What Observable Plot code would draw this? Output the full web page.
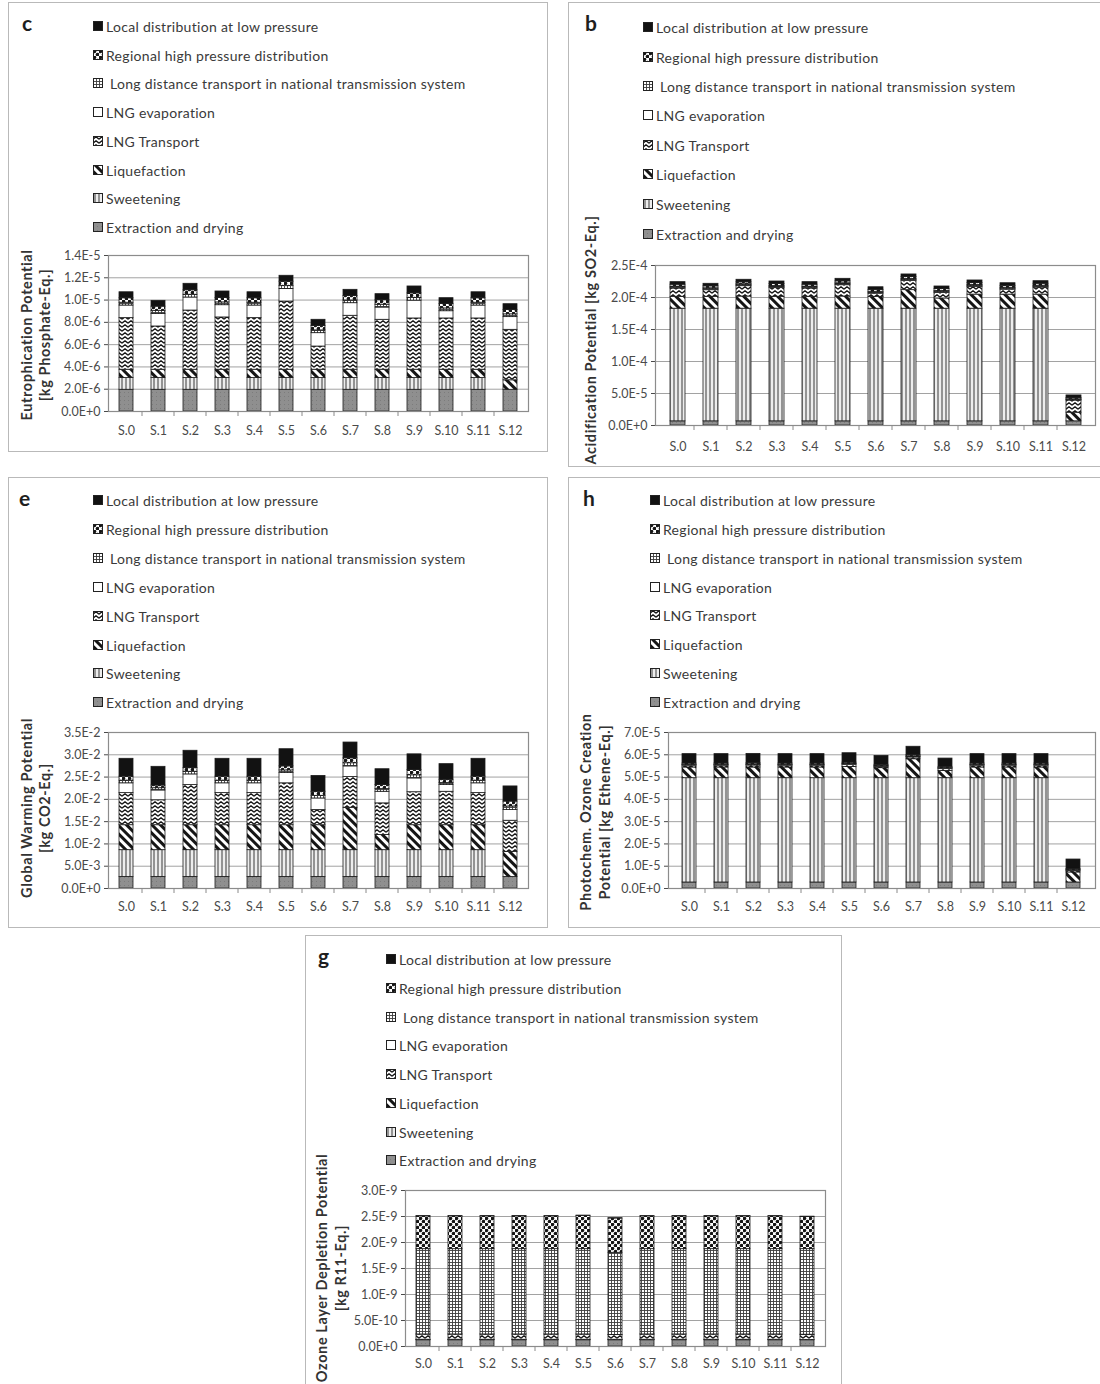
<!DOCTYPE html>
<html>
<head>
<meta charset="utf-8">
<script src="https://cdn.jsdelivr.net/npm/d3@7"></script>
<script src="https://cdn.jsdelivr.net/npm/@observablehq/plot@0.6"></script>
<style>
  body { margin: 0; background: #fff; font-family: Lato, "Open Sans", sans-serif; }
  #page { position: relative; width: 1100px; height: 1384px; overflow: hidden; background: #fff; }
  .box { position: absolute; border: 1px solid #b9b9b9; box-sizing: border-box; }
  .letter { position: absolute; font: bold 21px Lato, sans-serif; color: #1e1e1e; line-height: 1; }
  .item { position: absolute; display: flex; align-items: center; height: 18px; white-space: nowrap;
          font-size: 14px; letter-spacing: 0.3px; color: #3a3a3a; }
  .item svg { margin-right: 3px; flex: none; }
  .plotwrap { position: absolute; }
  .plotwrap svg { max-width: none !important; }
  #titles { position: absolute; left: 0; top: 0; pointer-events: none; }
</style>
</head>
<body>
<svg width="0" height="0" style="position:absolute">
  <defs>
    <pattern id="p-extraction" width="4" height="4" patternUnits="userSpaceOnUse">
      <rect width="4" height="4" fill="#8f8f8f"/>
      <rect width="1" height="1" fill="#7c7c7c"/>
    </pattern>
    <pattern id="p-sweetening" width="4" height="4" patternUnits="userSpaceOnUse">
      <rect width="4" height="4" fill="#ededed"/>
      <rect x="1.5" width="1" height="4" fill="#3a3a3a"/>
    </pattern>
    <pattern id="p-liquefaction" width="6" height="6" patternUnits="userSpaceOnUse" patternTransform="rotate(-45)">
      <rect width="6" height="6" fill="#fff"/>
      <rect width="3" height="6" fill="#151515"/>
    </pattern>
    <pattern id="p-transport" width="6" height="4" patternUnits="userSpaceOnUse">
      <rect width="6" height="4" fill="#fff"/>
      <path d="M0,3.2 L3,0.8 L6,3.2" fill="none" stroke="#151515" stroke-width="1.3"/>
    </pattern>
    <pattern id="p-longdist" width="3" height="3" patternUnits="userSpaceOnUse">
      <rect width="3" height="3" fill="#fff"/>
      <rect width="3" height="0.9" fill="#3c3c3c"/>
      <rect width="0.9" height="3" fill="#3c3c3c"/>
    </pattern>
    <pattern id="p-regional" width="6" height="6" patternUnits="userSpaceOnUse">
      <rect width="6" height="6" fill="#fff"/>
      <circle cx="1.5" cy="1.5" r="1.8" fill="#151515"/>
      <circle cx="4.5" cy="4.5" r="1.8" fill="#151515"/>
    </pattern>
  </defs>
</svg>

<div id="page"></div>

<script>
// Scenario categories along every x axis
const categories = ["S.0","S.1","S.2","S.3","S.4","S.5","S.6","S.7","S.8","S.9","S.10","S.11","S.12"];

// Process stages, stacked from the bottom of each bar upward
const stages = [
  "Extraction and drying",
  "Sweetening",
  "Liquefaction",
  "LNG Transport",
  "LNG evaporation",
  "Long distance transport in national transmission system",
  "Regional high pressure distribution",
  "Local distribution at low pressure"
];
const stageFills = [
  "url(#p-extraction)", "url(#p-sweetening)", "url(#p-liquefaction)", "url(#p-transport)",
  "#ffffff", "url(#p-longdist)", "url(#p-regional)", "#121212"
];

// (c) Eutrophication potential, in 1E-6 kg phosphate-eq.
const epExtraction     = [1.95, 1.95, 1.95, 1.95, 1.95, 1.95, 1.95, 1.95, 1.95, 1.95, 1.95, 1.95, 1.95];
const epSweetening     = [1.05, 1.05, 1.05, 1.05, 1.05, 1.05, 1.05, 1.05, 1.05, 1.05, 1.05, 1.05, 0];
const epLiquefaction   = [0.75, 0.75, 0.75, 0.75, 0.75, 0.75, 0.75, 0.75, 0.75, 0.75, 0.75, 0.75, 0.85];
const epLngTransport   = [4.63, 3.88, 5.31, 4.69, 4.63, 6.12, 2.08, 4.84, 4.48, 4.60, 4.60, 4.60, 4.53];
const epLngEvaporation = [1.13, 1.13, 1.17, 1.10, 1.13, 1.13, 1.20, 1.13, 1.10, 1.60, 0.65, 1.16, 1.14];
const epLongDistance   = [0.25, 0.25, 0.25, 0.25, 0.25, 0.25, 0.25, 0.25, 0.25, 0.25, 0.25, 0.25, 0.25];
const epRegional       = [0.40, 0.40, 0.40, 0.40, 0.40, 0.40, 0.40, 0.40, 0.40, 0.40, 0.40, 0.40, 0.40];
const epLocal          = [0.54, 0.52, 0.58, 0.58, 0.54, 0.53, 0.55, 0.55, 0.55, 0.62, 0.52, 0.54, 0.51];
const epTicks = [0, 2, 4, 6, 8, 10, 12, 14];

// (b) Acidification potential, in 1E-5 kg SO2-eq.
const apExtraction     = [0.65, 0.65, 0.65, 0.65, 0.65, 0.65, 0.65, 0.65, 0.65, 0.65, 0.65, 0.65, 0.65];
const apSweetening     = [17.6, 17.6, 17.6, 17.6, 17.6, 17.6, 17.6, 17.6, 17.6, 17.6, 17.6, 17.6, 0];
const apLiquefaction   = [1.85, 1.85, 1.90, 1.85, 1.85, 1.90, 1.85, 2.90, 1.60, 2.20, 2.20, 2.20, 1.35];
const apLngTransport   = [1.30, 1.04, 1.62, 1.40, 1.30, 1.77, 0.50, 1.45, 0.87, 1.21, 0.78, 1.10, 1.90];
const apLngEvaporation = [0.15, 0.15, 0.15, 0.15, 0.15, 0.15, 0.15, 0.15, 0.15, 0.15, 0.15, 0.15, 0.10];
const apLongDistance   = [0.15, 0.15, 0.15, 0.15, 0.15, 0.15, 0.15, 0.15, 0.15, 0.15, 0.15, 0.15, 0.10];
const apRegional       = [0.30, 0.30, 0.30, 0.30, 0.30, 0.30, 0.30, 0.30, 0.30, 0.30, 0.30, 0.30, 0.20];
const apLocal          = [0.40, 0.40, 0.40, 0.40, 0.40, 0.40, 0.40, 0.40, 0.40, 0.40, 0.40, 0.40, 0.40];
const apTicks = [0, 5, 10, 15, 20, 25];

// (e) Global warming potential, in 1E-3 kg CO2-eq.
const gwpExtraction     = [2.6, 2.6, 2.6, 2.6, 2.6, 2.6, 2.6, 2.6, 2.6, 2.6, 2.6, 2.6, 2.6];
const gwpSweetening     = [6.0, 6.0, 6.0, 6.0, 6.0, 6.0, 6.0, 6.0, 6.0, 6.0, 6.0, 6.0, 0];
const gwpLiquefaction   = [5.6, 5.6, 5.6, 5.6, 5.6, 5.6, 5.6, 9.5, 3.4, 5.6, 5.6, 5.6, 5.6];
const gwpLngTransport   = [7.2, 5.6, 9.0, 7.2, 7.2, 9.4, 3.4, 6.9, 7.1, 7.4, 7.5, 7.2, 7.0];
const gwpLngEvaporation = [2.2, 2.2, 2.4, 2.2, 2.2, 2.3, 2.6, 2.4, 2.6, 3.1, 1.5, 2.2, 2.4];
const gwpLongDistance   = [0.6, 0.5, 0.6, 0.6, 0.6, 0.6, 0.6, 0.7, 0.6, 0.7, 0.5, 0.6, 0.8];
const gwpRegional       = [0.9, 0.6, 0.8, 0.9, 0.9, 0.9, 0.9, 1.1, 0.9, 1.2, 0.7, 0.9, 1.1];
const gwpLocal          = [4.0, 4.2, 3.9, 4.0, 4.0, 3.85, 3.56, 3.55, 3.56, 3.5, 3.5, 4.0, 3.4];
const gwpTicks = [0, 5, 10, 15, 20, 25, 30, 35];

// (h) Photochemical ozone creation potential, in 1E-5 kg ethene-eq.
const pocpExtraction     = [0.27, 0.27, 0.27, 0.27, 0.27, 0.27, 0.27, 0.27, 0.27, 0.27, 0.27, 0.27, 0.27];
const pocpSweetening     = [4.68, 4.68, 4.68, 4.68, 4.68, 4.68, 4.68, 4.68, 4.68, 4.68, 4.68, 4.68, 0];
const pocpLiquefaction   = [0.48, 0.48, 0.48, 0.48, 0.48, 0.50, 0.45, 0.85, 0.33, 0.48, 0.48, 0.48, 0.45];
const pocpLngTransport   = [0.08, 0.08, 0.09, 0.08, 0.08, 0.10, 0.05, 0.08, 0.08, 0.08, 0.08, 0.08, 0.07];
const pocpLngEvaporation = [0.03, 0.03, 0.03, 0.03, 0.03, 0.03, 0.03, 0.03, 0.03, 0.03, 0.03, 0.03, 0.03];
const pocpLongDistance   = [0.02, 0.02, 0.02, 0.02, 0.02, 0.02, 0.02, 0.02, 0.02, 0.02, 0.02, 0.02, 0.02];
const pocpRegional       = [0.05, 0.05, 0.05, 0.05, 0.05, 0.05, 0.05, 0.05, 0.05, 0.05, 0.05, 0.05, 0.04];
const pocpLocal          = [0.42, 0.42, 0.42, 0.42, 0.42, 0.42, 0.40, 0.38, 0.37, 0.42, 0.42, 0.42, 0.42];
const pocpTicks = [0, 1, 2, 3, 4, 5, 6, 7];

// (g) Ozone layer depletion potential, in 1E-10 kg R11-eq.
const odpExtraction     = [1.2, 1.2, 1.2, 1.2, 1.2, 1.2, 1.2, 1.2, 1.2, 1.2, 1.2, 1.2, 1.2];
const odpSweetening     = [0.05, 0.05, 0.05, 0.05, 0.05, 0.05, 0.05, 0.05, 0.05, 0.05, 0.05, 0.05, 0];
const odpLiquefaction   = [0.05, 0.05, 0.05, 0.05, 0.05, 0.05, 0.05, 0.05, 0.05, 0.05, 0.05, 0.05, 0.05];
const odpLngTransport   = [1.0, 1.0, 1.0, 1.0, 1.0, 1.0, 0.9, 1.0, 1.0, 1.0, 1.0, 1.0, 1.0];
const odpLngEvaporation = [0.02, 0.02, 0.02, 0.02, 0.02, 0.02, 0.02, 0.02, 0.02, 0.02, 0.02, 0.02, 0.02];
const odpLongDistance   = [16.4, 16.4, 16.4, 16.4, 16.4, 16.4, 15.8, 16.4, 16.4, 16.4, 16.4, 16.4, 16.45];
const odpRegional       = [6.3, 6.3, 6.3, 6.3, 6.3, 6.4, 6.6, 6.3, 6.3, 6.3, 6.3, 6.3, 6.2];
const odpLocal          = [0.05, 0.05, 0.05, 0.05, 0.05, 0.05, 0.05, 0.05, 0.05, 0.05, 0.05, 0.05, 0.05];
const odpTicks = [0, 5, 10, 15, 20, 25, 30];

// Panel layout: outer box, plot svg placement, legend and axis title positions
const panels = [
  { letter: "c", unit: 1e-6, ticks: epTicks,
    series: [epExtraction, epSweetening, epLiquefaction, epLngTransport, epLngEvaporation, epLongDistance, epRegional, epLocal],
    box: [8, 2, 540, 450], letterPos: [22, 12],
    svg: { left: 8, top: 240, width: 540, height: 210, ml: 100, mr: 20, mt: 15, mb: 39, pad: 15 },
    legendX: 93, legendY: [26, 55, 83, 112, 141, 170, 198, 227],
    titles: [[26, "Eutrophication Potential"], [44, "[kg Phosphate-Eq.]"]], titleY: 335 },
  { letter: "b", unit: 1e-5, ticks: apTicks,
    series: [apExtraction, apSweetening, apLiquefaction, apLngTransport, apLngEvaporation, apLongDistance, apRegional, apLocal],
    box: [568, 2, 545, 465], letterPos: [585, 12],
    svg: { left: 568, top: 250, width: 532, height: 217, ml: 87, mr: 5, mt: 15, mb: 42, pad: 17 },
    legendX: 643, legendY: [27, 57, 86, 115, 145, 174, 204, 234],
    titles: [[590, "Acidification Potential [kg SO2-Eq.]"]], titleY: 340 },
  { letter: "e", unit: 1e-3, ticks: gwpTicks,
    series: [gwpExtraction, gwpSweetening, gwpLiquefaction, gwpLngTransport, gwpLngEvaporation, gwpLongDistance, gwpRegional, gwpLocal],
    box: [8, 477, 540, 451], letterPos: [19, 487],
    svg: { left: 8, top: 717, width: 540, height: 210, ml: 100, mr: 20, mt: 15, mb: 39, pad: 14 },
    legendX: 93, legendY: [500, 529, 558, 587, 616, 645, 673, 702],
    titles: [[26, "Global Warming Potential"], [44, "[kg CO2-Eq.]"]], titleY: 808 },
  { letter: "h", unit: 1e-5, ticks: pocpTicks,
    series: [pocpExtraction, pocpSweetening, pocpLiquefaction, pocpLngTransport, pocpLngEvaporation, pocpLongDistance, pocpRegional, pocpLocal],
    box: [568, 477, 545, 451], letterPos: [583, 487],
    svg: { left: 568, top: 717, width: 532, height: 210, ml: 100, mr: 5, mt: 15, mb: 39, pad: 14 },
    legendX: 650, legendY: [500, 529, 558, 587, 615, 644, 673, 702],
    titles: [[585, "Photochem. Ozone Creation"], [604, "Potential [kg Ethene-Eq.]"]], titleY: 812 },
  { letter: "g", unit: 1e-10, ticks: odpTicks,
    series: [odpExtraction, odpSweetening, odpLiquefaction, odpLngTransport, odpLngEvaporation, odpLongDistance, odpRegional, odpLocal],
    box: [305, 935, 537, 460], letterPos: [318, 945],
    svg: { left: 305, top: 1175, width: 537, height: 209, ml: 100, mr: 17, mt: 15, mb: 38, pad: 13 },
    legendX: 386, legendY: [959, 988, 1017, 1045, 1074, 1103, 1132, 1160],
    titles: [[321, "Ozone Layer Depletion Potential"], [340, "[kg R11-Eq.]"]], titleY: 1268 }
];

const page = document.getElementById("page");
const fmtE = (v) => v.toExponential(1).toUpperCase();

// Small downward tick marks on the category boundaries of the x axis
function categoryTicks(cats) {
  return (index, scales, values, dimensions) => {
    try {
      const x = scales.x;
      const bw = typeof x.bandwidth === "function" ? x.bandwidth() : (x.bandwidth || 0);
      const step = x(cats[1]) - x(cats[0]);
      const y0 = dimensions.height - dimensions.marginBottom;
      const g = d3.create("svg:g").attr("stroke", "#8a8a8a").attr("stroke-width", 1);
      cats.slice(0, -1).forEach((c) => {
        const px = x(c) + bw / 2 + step / 2;
        g.append("line").attr("x1", px).attr("x2", px).attr("y1", y0).attr("y2", y0 + 5);
      });
      return g.node();
    } catch (err) {
      return null;
    }
  };
}

function drawPanel(p) {
  const box = document.createElement("div");
  box.className = "box";
  Object.assign(box.style, { left: p.box[0] + "px", top: p.box[1] + "px", width: p.box[2] + "px", height: p.box[3] + "px" });
  page.appendChild(box);

  const letter = document.createElement("div");
  letter.className = "letter";
  letter.textContent = p.letter;
  Object.assign(letter.style, { left: p.letterPos[0] + "px", top: p.letterPos[1] + "px" });
  page.appendChild(letter);

  // legend, top entry is the uppermost stack segment
  const order = stages.map((s, i) => i).reverse();
  order.forEach((si, k) => {
    const item = document.createElement("div");
    item.className = "item";
    Object.assign(item.style, { left: p.legendX + "px", top: (p.legendY[k] - 9) + "px" });
    const sw = d3.create("svg").attr("width", 10).attr("height", 10);
    sw.append("rect").attr("x", 0.5).attr("y", 0.5).attr("width", 9).attr("height", 9)
      .attr("fill", stageFills[si]).attr("stroke", "#222").attr("stroke-width", 1);
    item.appendChild(sw.node());
    const label = document.createElement("span");
    label.textContent = stages[si];
    if (si === 5) label.style.marginLeft = "4px";
    item.appendChild(label);
    page.appendChild(item);
  });

  const rows = [];
  categories.forEach((c, i) => {
    stages.forEach((s, j) => rows.push({ scenario: c, stage: s, value: p.series[j][i] }));
  });

  const s = p.svg;
  const chart = Plot.plot({
    width: s.width,
    height: s.height,
    marginLeft: s.ml, marginRight: s.mr, marginTop: s.mt, marginBottom: s.mb,
    style: { background: "transparent", fontFamily: "Lato, 'Open Sans', sans-serif", fontSize: "12.5px", color: "#4a4a4a" },
    x: { domain: categories, paddingInner: 0.55, paddingOuter: 0.275, label: null, tickSize: 0, tickPadding: s.pad },
    y: { domain: [0, p.ticks[p.ticks.length - 1]], ticks: p.ticks, tickFormat: (v) => fmtE(v * p.unit),
         label: null, tickSize: 4, tickPadding: 4 },
    color: { type: "ordinal", domain: stages, range: stageFills },
    marks: [
      Plot.ruleY(p.ticks, { stroke: "#a2a2a2", strokeWidth: 1 }),
      Plot.barY(rows, { x: "scenario", y: "value", fill: "stage", stroke: "#1c1c1c", strokeWidth: 0.8 }),
      Plot.frame({ stroke: "#8c8c8c", strokeWidth: 1.2 }),
      categoryTicks(categories)
    ]
  });
  const wrap = document.createElement("div");
  wrap.className = "plotwrap";
  Object.assign(wrap.style, { left: s.left + "px", top: s.top + "px", width: s.width + "px", height: s.height + "px" });
  wrap.appendChild(chart);
  page.appendChild(wrap);
}

panels.forEach(drawPanel);

// Rotated y-axis titles
const titles = d3.select(page).append("svg").attr("id", "titles").attr("width", 1100).attr("height", 1384);
panels.forEach((p) => {
  p.titles.forEach(([x, text]) => {
    titles.append("text")
      .attr("transform", `translate(${x},${p.titleY}) rotate(-90)`)
      .attr("text-anchor", "middle")
      .attr("dominant-baseline", "central")
      .attr("font-family", "Lato, 'Open Sans', sans-serif")
      .attr("font-weight", "bold")
      .attr("font-size", 14.5)
      .attr("letter-spacing", 0.6)
      .attr("fill", "#333")
      .text(text);
  });
});
</script>
</body>
</html>
